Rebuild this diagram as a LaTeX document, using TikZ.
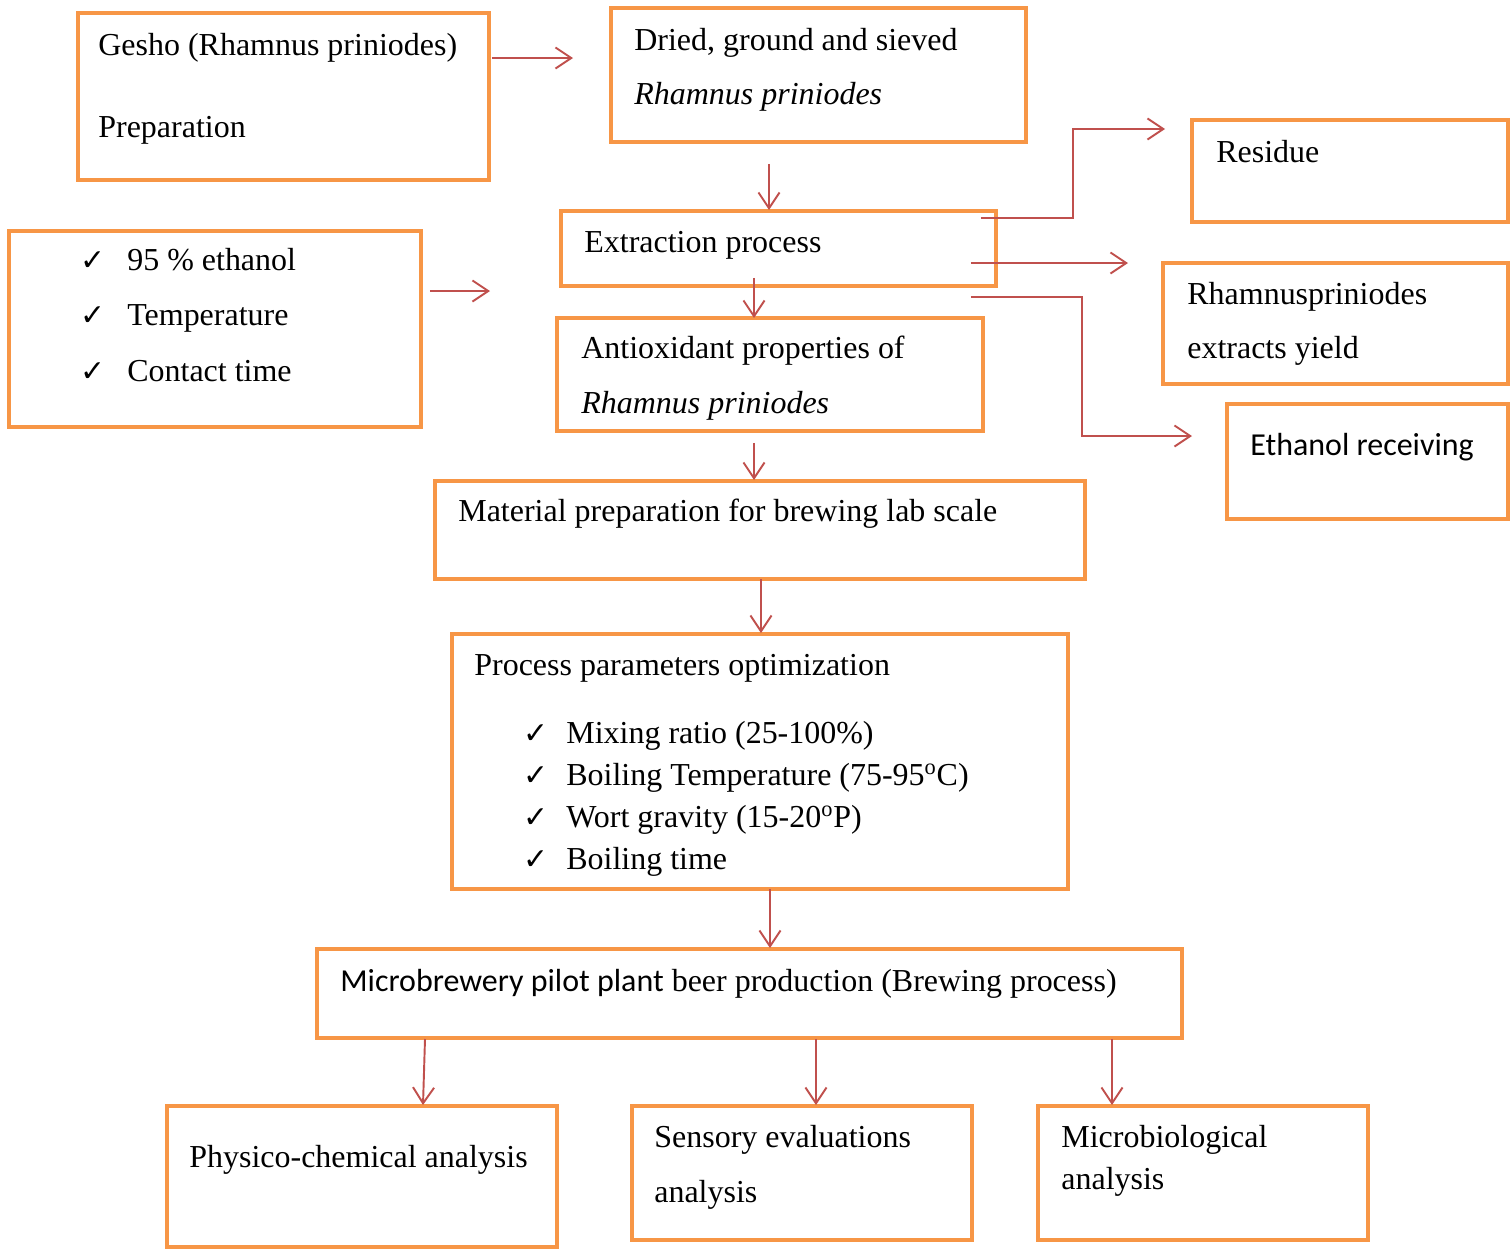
\documentclass[tikz,border=0pt]{standalone}
\usepackage{fontspec}
\setmainfont{Liberation Serif}
\newfontfamily\calibri{Carlito}
\newfontfamily\symfont{DejaVu Sans}
\usetikzlibrary{arrows.meta}
\definecolor{boxorange}{HTML}{F79646}
\definecolor{arrred}{HTML}{C0504D}
\newcommand{\ck}[1][0.94cm]{\makebox[#1][l]{\symfont\fontsize{17}{17}\selectfont ✓}}
\tikzset{
  box/.style={draw=boxorange,line width=2.5pt,anchor=north west,inner sep=0pt,outer sep=0pt},
  txt/.style={anchor=base west,inner sep=0pt,align=left,font=\fontsize{18.2}{31}\selectfont},
  arr/.style={draw=arrred,line width=1.1pt,-{Straight Barb[length=9pt,width=12pt]}}
}
\begin{document}
\begin{tikzpicture}[x=0.02cm,y=-0.02cm]
\useasboundingbox (0,0) rectangle (1510,1249);
% boxes
\node[box,minimum width=8.22cm,minimum height=3.34cm] (gesho) at (78,13) {};
\node[box,minimum width=8.30cm,minimum height=2.68cm] (dried) at (611,8) {};
\node[box,minimum width=8.70cm,minimum height=1.50cm] (extr) at (561,211) {};
\node[box,minimum width=6.32cm,minimum height=2.04cm] (residue) at (1192,120) {};
\node[box,minimum width=6.90cm,minimum height=2.42cm] (yield) at (1163,263) {};
\node[box,minimum width=5.62cm,minimum height=2.30cm] (ethrec) at (1227,404) {};
\node[box,minimum width=8.24cm,minimum height=3.92cm] (solvent) at (9,231) {};
\node[box,minimum width=8.52cm,minimum height=2.26cm] (antiox) at (557,318) {};
\node[box,minimum width=13.0cm,minimum height=1.96cm] (material) at (435,481) {};
\node[box,minimum width=12.32cm,minimum height=5.10cm] (optim) at (452,634) {};
\node[box,minimum width=17.30cm,minimum height=1.78cm] (brew) at (317,949) {};
\node[box,minimum width=7.80cm,minimum height=2.82cm] (physico) at (167,1106) {};
\node[box,minimum width=6.80cm,minimum height=2.68cm] (sensory) at (632,1106) {};
\node[box,minimum width=6.60cm,minimum height=2.68cm] (micro) at (1038,1106) {};
% texts (multi-line ones sit on their last baseline)
\node[txt,font=\fontsize{18.2}{46.5}\selectfont] (gesho-t) at ([shift={(20,124)}]gesho.north west) {Gesho (Rhamnus priniodes)\\Preparation};
\node[txt,font=\fontsize{18.2}{30.6}\selectfont] (dried-t) at ([shift={(23,96)}]dried.north west) {Dried, ground and sieved\\\textit{Rhamnus priniodes}};
\node[txt] (extr-t) at ([shift={(23,41)}]extr.north west) {Extraction process};
\node[txt] (residue-t) at ([shift={(24,42)}]residue.north west) {Residue};
\node[txt,font=\fontsize{18.2}{30.6}\selectfont] (yield-t) at ([shift={(24,95)}]yield.north west) {Rhamnuspriniodes\\extracts yield};
\node[txt,font=\calibri\fontsize{18.2}{31}\selectfont] (ethrec-t) at ([shift={(23,51)}]ethrec.north west) {Ethanol receiving};
\node[txt,font=\fontsize{18.2}{31.5}\selectfont] (solvent-t) at ([shift={(71,150)}]solvent.north west) {\ck 95 \% ethanol\\\ck Temperature\\\ck Contact time};
\node[txt,font=\fontsize{18.2}{31.2}\selectfont] (antiox-t) at ([shift={(24,95)}]antiox.north west) {Antioxidant properties of\\\textit{Rhamnus priniodes}};
\node[txt] (material-t) at ([shift={(23,40)}]material.north west) {Material preparation for brewing lab scale};
\node[txt] (optim-t) at ([shift={(22,41)}]optim.north west) {Process parameters optimization};
\node[txt,font=\fontsize{18.2}{23.8}\selectfont] (optim-l) at ([shift={(71,235)}]optim.north west) {\ck[0.86cm]Mixing ratio (25-100\%)\\\ck[0.86cm]Boiling Temperature (75-95\textsuperscript{o}C)\\\ck[0.86cm]Wort gravity (15-20\textsuperscript{o}P)\\\ck[0.86cm]Boiling time};
\node[txt] (brew-t) at ([shift={(23,42)}]brew.north west) {{\calibri Microbrewery pilot plant} beer production (Brewing process)};
\node[txt] (physico-t) at ([shift={(22,61)}]physico.north west) {Physico-chemical analysis};
\node[txt,font=\fontsize{18.2}{31.2}\selectfont] (sensory-t) at ([shift={(22,96)}]sensory.north west) {Sensory evaluations\\analysis};
\node[txt,font=\fontsize{18.2}{23.8}\selectfont] (micro-t) at ([shift={(23,83)}]micro.north west) {Microbiological\\analysis};
% arrows
\draw[arr] ([shift={(3,45)}]gesho.north east) -- ([shift={(-38,50)}]dried.north west);
\draw[arr] ([shift={(158,22)}]dried.south west) -- ([shift={(208,-1)}]extr.north west);
\draw[arr] ([shift={(9,60)}]solvent.north east) -- ([shift={(-71,80)}]extr.north west);
\draw[arr] ([shift={(193,-8)}]extr.south west) -- ([shift={(197,0)}]antiox.north west);
\draw[arr] ([shift={(-15,7)}]extr.north east) -- ++(92,0) |- ([shift={(-27,9)}]residue.north west);
\draw[arr] ([shift={(-25,52)}]extr.north east) -- ([shift={(-35,0)}]yield.north west);
\draw[arr] ([shift={(-25,11)}]extr.south east) -- ++(111,0) |- ([shift={(-35,32)}]ethrec.north west);
\draw[arr] ([shift={(197,12)}]antiox.south west) -- ([shift={(319,-1)}]material.north west);
\draw[arr] ([shift={(326,0)}]material.south west) -- ([shift={(309,-1)}]optim.north west);
\draw[arr] ([shift={(318,0)}]optim.south west) -- ([shift={(453,-1)}]brew.north west);
\draw[arr] ([shift={(108,1)}]brew.south west) -- ([shift={(256,-1)}]physico.north west);
\draw[arr] ([shift={(499,1)}]brew.south west) -- ([shift={(184,-1)}]sensory.north west);
\draw[arr] ([shift={(795,1)}]brew.south west) -- ([shift={(74,-1)}]micro.north west);
\end{tikzpicture}
\end{document}
